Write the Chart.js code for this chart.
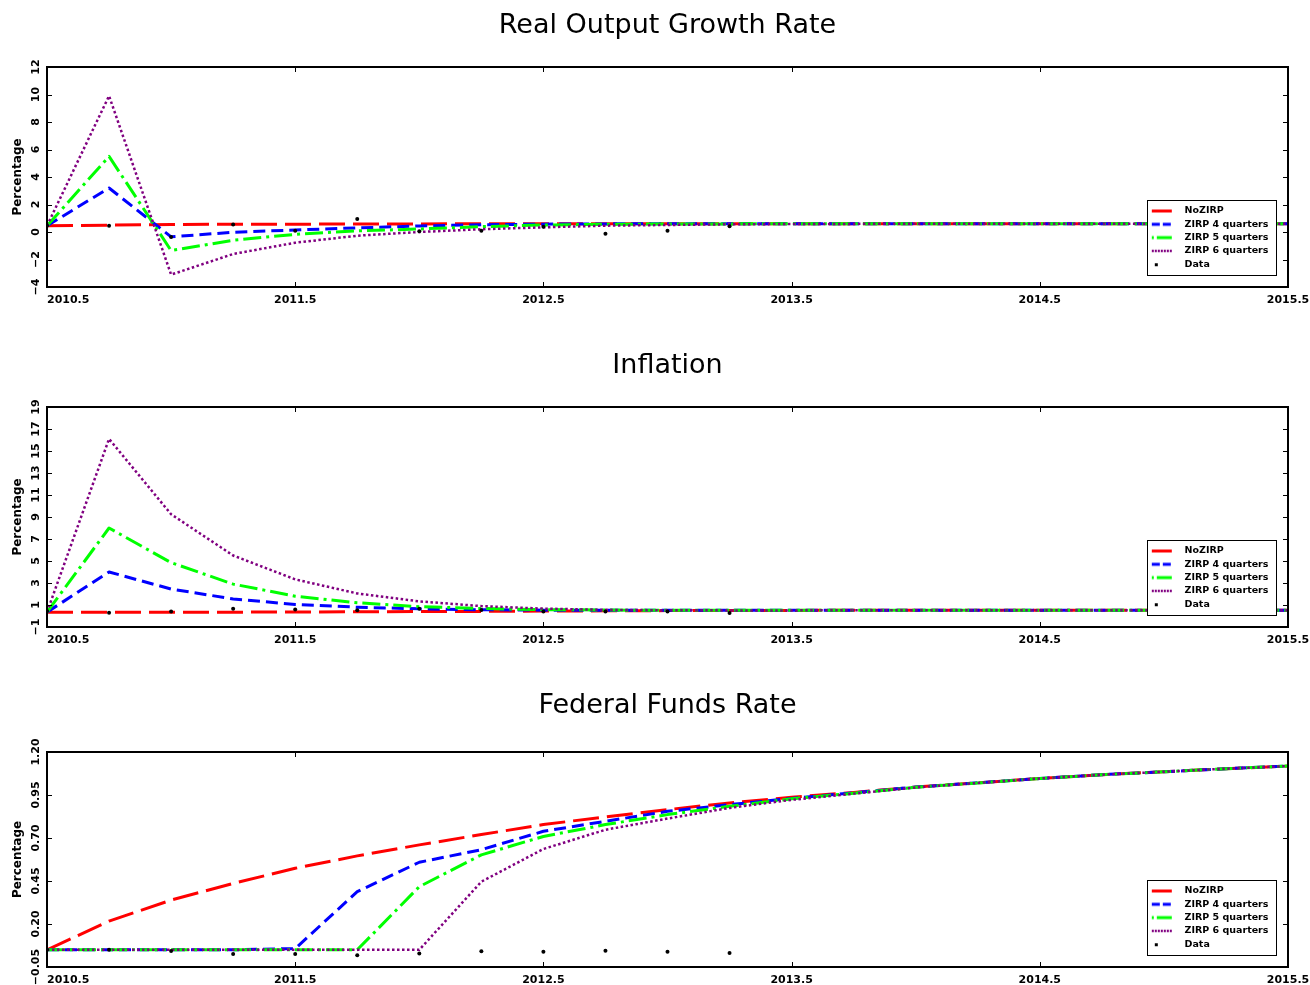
<!DOCTYPE html>
<html>
<head>
<meta charset="utf-8">
<script src="https://cdn.jsdelivr.net/npm/chart.js@4.4.0/dist/chart.umd.min.js"></script>
<style>
  html, body { margin: 0; padding: 0; background: #fff; overflow: hidden; width: 1310px; height: 985px; }
  .panel { position: absolute; left: 0; width: 1310px; height: 330px; }
</style>
</head>
<body>
<div class="panel" style="top:0"><canvas id="output" width="1310" height="330"></canvas></div>
<div class="panel" style="top:340px"><canvas id="inflation" width="1310" height="330"></canvas></div>
<div class="panel" style="top:680px"><canvas id="ffr" width="1310" height="330"></canvas></div>
<script>
// quarters on the x axis
const quarters = [2010.5, 2010.75, 2011, 2011.25, 2011.5, 2011.75, 2012, 2012.25, 2012.5, 2012.75, 2013,
    2013.25, 2013.5, 2013.75, 2014, 2014.25, 2014.5, 2014.75, 2015, 2015.25, 2015.5];
const dataQuarters = [2010.5, 2010.75, 2011, 2011.25, 2011.5, 2011.75, 2012, 2012.25, 2012.5, 2012.75, 2013, 2013.25];
const xTicks = [2010.5, 2011.5, 2012.5, 2013.5, 2014.5, 2015.5];

const seriesNames = ['NoZIRP', 'ZIRP 4 quarters', 'ZIRP 5 quarters', 'ZIRP 6 quarters', 'Data'];

// Real output growth rate
const outputNoZirp = [0.45, 0.5, 0.55, 0.56, 0.57, 0.58, 0.59, 0.6, 0.6, 0.6, 0.6, 0.6, 0.6, 0.6, 0.6, 0.6, 0.6, 0.6, 0.6, 0.6, 0.6];
const outputZirp4 = [0.45, 3.2, -0.35, -0.02, 0.15, 0.3, 0.44, 0.53, 0.57, 0.59, 0.6, 0.6, 0.6, 0.6, 0.6, 0.6, 0.6, 0.6, 0.6, 0.6, 0.6];
const outputZirp5 = [0.45, 5.5, -1.35, -0.6, -0.17, 0.08, 0.22, 0.39, 0.51, 0.56, 0.58, 0.59, 0.6, 0.6, 0.6, 0.6, 0.6, 0.6, 0.6, 0.6, 0.6];
const outputZirp6 = [0.45, 9.9, -3.1, -1.6, -0.78, -0.27, 0.0, 0.2, 0.34, 0.46, 0.51, 0.56, 0.58, 0.59, 0.6, 0.6, 0.6, 0.6, 0.6, 0.6, 0.6];
const outputData = [0.45, 0.45, -0.37, 0.55, 0.1, 0.95, 0.05, 0.1, 0.39, -0.12, 0.1, 0.42];
const outputTicks = [-4, -2, 0, 2, 4, 6, 8, 10, 12];

// Inflation
const inflNoZirp = [0.33, 0.33, 0.34, 0.35, 0.36, 0.38, 0.4, 0.42, 0.45, 0.47, 0.49, 0.5, 0.51, 0.52, 0.52, 0.52, 0.52, 0.52, 0.52, 0.52, 0.52];
const inflZirp4 = [0.35, 4.0, 2.45, 1.55, 1.05, 0.8, 0.65, 0.57, 0.53, 0.52, 0.52, 0.52, 0.52, 0.52, 0.52, 0.52, 0.52, 0.52, 0.52, 0.52, 0.52];
const inflZirp5 = [0.35, 8.0, 4.85, 2.9, 1.8, 1.2, 0.85, 0.68, 0.58, 0.54, 0.52, 0.52, 0.52, 0.52, 0.52, 0.52, 0.52, 0.52, 0.52, 0.52, 0.52];
const inflZirp6 = [0.35, 16.1, 9.25, 5.5, 3.33, 2.05, 1.33, 0.9, 0.67, 0.56, 0.52, 0.51, 0.51, 0.52, 0.52, 0.52, 0.52, 0.52, 0.52, 0.52, 0.52];
const inflData = [0.45, 0.3, 0.42, 0.67, 0.58, 0.52, 0.67, 0.55, 0.42, 0.42, 0.42, 0.27];
const inflTicks = [-1, 1, 3, 5, 7, 9, 11, 13, 15, 17, 19];

// Federal funds rate
const ffrNoZirp = [0.05, 0.217, 0.339, 0.436, 0.524, 0.596, 0.66, 0.72, 0.778, 0.823, 0.865, 0.904, 0.937, 0.965, 0.996, 1.021, 1.046, 1.068, 1.085, 1.103, 1.118];
const ffrZirp4 = [0.05, 0.05, 0.05, 0.05, 0.057, 0.388, 0.559, 0.632, 0.739, 0.797, 0.855, 0.894, 0.93, 0.963, 0.996, 1.021, 1.046, 1.068, 1.085, 1.103, 1.118];
const ffrZirp5 = [0.05, 0.05, 0.05, 0.05, 0.05, 0.05, 0.417, 0.602, 0.709, 0.778, 0.836, 0.884, 0.928, 0.96, 0.995, 1.02, 1.046, 1.068, 1.085, 1.103, 1.118];
const ffrZirp6 = [0.05, 0.05, 0.05, 0.05, 0.05, 0.05, 0.05, 0.446, 0.636, 0.748, 0.813, 0.875, 0.922, 0.958, 0.994, 1.02, 1.046, 1.068, 1.085, 1.103, 1.118];
const ffrData = [0.05, 0.05, 0.043, 0.026, 0.026, 0.018, 0.028, 0.042, 0.038, 0.044, 0.038, 0.032];
const ffrTicks = [-0.05, 0.2, 0.45, 0.7, 0.95, 1.2];

// line looks (matplotlib style)
const lineStyles = [
    { color: '#ff0000', width: 3, dash: [26, 8], legendDash: [] },
    { color: '#0000ff', width: 3, dash: [12, 6], legendDash: [8, 3] },
    { color: '#00ff00', width: 3, dash: [18, 5, 3, 5], legendDash: [2, 3, 16] },
    { color: '#800080', width: 2.5, dash: [2.5, 2.5], legendDash: [2, 1] },
];

Chart.defaults.color = '#000';
Chart.defaults.font.family = 'DejaVu Sans';

// small pictures used as legend samples
function legendIcon(style) {
    const c = document.createElement('canvas');
    c.width = 29;
    c.height = 10;
    const g = c.getContext('2d');
    if (style) {
        g.strokeStyle = style.color;
        g.lineWidth = style.width;
        g.setLineDash(style.legendDash);
        g.beginPath();
        g.moveTo(1, 5);
        g.lineTo(21, 5);
        g.stroke();
    } else {
        g.fillStyle = '#000';
        g.fillRect(4, 4, 3, 3);
    }
    return c;
}
const legendIcons = [legendIcon(lineStyles[0]), legendIcon(lineStyles[1]), legendIcon(lineStyles[2]),
    legendIcon(lineStyles[3]), legendIcon(null)];

// frame and inward tick marks
const framePlugin = {
    id: 'frame',
    beforeDraw(chart) {
        // first x label starts at the axis instead of being centred on it
        const items = chart.scales.x.getLabelItems(chart.chartArea);
        if (items.length) items[0].options.textAlign = 'left';
    },
    afterDatasetsDraw(chart) {
        const ctx = chart.ctx;
        const ca = chart.chartArea;
        const xs = chart.scales.x, ys = chart.scales.y;
        ctx.save();
        ctx.strokeStyle = '#000';
        ctx.lineWidth = 1;
        ctx.beginPath();
        xs.ticks.forEach(t => {
            const px = Math.round(xs.getPixelForValue(t.value)) + 0.5;
            ctx.moveTo(px, ca.bottom); ctx.lineTo(px, ca.bottom - 5);
            ctx.moveTo(px, ca.top); ctx.lineTo(px, ca.top + 5);
        });
        ys.ticks.forEach(t => {
            const py = Math.round(ys.getPixelForValue(t.value)) + 0.5;
            ctx.moveTo(ca.left, py); ctx.lineTo(ca.left + 5, py);
            ctx.moveTo(ca.right, py); ctx.lineTo(ca.right - 5, py);
        });
        ctx.stroke();
        ctx.lineWidth = 2;
        ctx.strokeRect(ca.left, ca.top, ca.right - ca.left, ca.bottom - ca.top);
        ctx.restore();
    }
};

// moves the legend into the lower right corner and gives it a box
const legendBoxPlugin = {
    id: 'legendBox',
    beforeLayout(chart) {
        const lg = chart.legend;
        if (!lg) return;
        lg._layers = () => [{
            z: 10,
            draw(area) {
                const f = chart.$legendFrame;
                const ctx = chart.ctx;
                if (f) {
                    ctx.save();
                    ctx.fillStyle = '#fff';
                    ctx.fillRect(f.left, f.top, f.right - f.left, f.bottom - f.top);
                    ctx.strokeStyle = '#000';
                    ctx.lineWidth = 1;
                    ctx.strokeRect(f.left + 0.5, f.top + 0.5, f.right - f.left - 1, f.bottom - f.top - 1);
                    ctx.restore();
                }
                lg.draw(area);
            }
        }];
    },
    afterLayout(chart) {
        const lg = chart.legend;
        const ca = chart.chartArea;
        const right = ca.right - 11, bottom = ca.bottom - 11;
        const left = right - 130, top = bottom - 76;
        chart.$legendFrame = { left, top, right, bottom };
        lg.left = left;
        lg.right = right;
        lg.top = top + 2.45;
        lg.bottom = bottom;
        lg.width = right - left;
        lg.height = lg.bottom - lg.top;
    }
};

function makePanel(id, title, lines, dots, yTicks, fmt, chartTop, tickPad) {
    const datasets = lines.map((vals, i) => ({
        label: seriesNames[i],
        data: quarters.map((q, j) => ({ x: q, y: vals[j] })),
        borderColor: lineStyles[i].color,
        backgroundColor: lineStyles[i].color,
        borderWidth: lineStyles[i].width,
        borderDash: lineStyles[i].dash,
        borderCapStyle: 'butt',
        borderJoinStyle: 'round',
        pointRadius: 0,
        tension: 0,
        order: 5 - i,
    }));
    datasets.push({
        label: seriesNames[4],
        data: dataQuarters.map((q, j) => ({ x: q, y: dots[j] })),
        showLine: false,
        pointRadius: 2,
        pointBorderWidth: 0,
        pointBackgroundColor: '#000',
        borderColor: '#000',
        backgroundColor: '#000',
        order: 0,
    });

    const tickFont = { family: 'DejaVu Sans', size: 11, weight: 'bold' };

    new Chart(document.getElementById(id), {
        type: 'line',
        data: { datasets },
        options: {
            responsive: false,
            animation: false,
            events: [],
            layout: { padding: { left: 0, right: 22, top: 0, bottom: 0 } },
            scales: {
                x: {
                    type: 'linear',
                    min: xTicks[0],
                    max: xTicks[xTicks.length - 1],
                    afterBuildTicks: s => { s.ticks = xTicks.map(v => ({ value: v })); },
                    afterFit: s => { s.height = 43; s.paddingLeft = 0; s.paddingRight = 0; },
                    grid: { display: false, drawTicks: false },
                    border: { display: false },
                    ticks: {
                        autoSkip: false, maxRotation: 0, minRotation: 0, padding: 7,
                        font: tickFont, color: '#000',
                        callback: v => v.toFixed(1),
                    },
                },
                y: {
                    type: 'linear',
                    min: yTicks[0],
                    max: yTicks[yTicks.length - 1],
                    afterBuildTicks: s => { s.ticks = yTicks.map(v => ({ value: v })); },
                    afterFit: s => { s.width = 47; },
                    grid: { display: false, drawTicks: false },
                    border: { display: false },
                    ticks: {
                        autoSkip: false, minRotation: 90, maxRotation: 90, crossAlign: 'center',
                        padding: tickPad, font: tickFont, color: '#000',
                        callback: v => fmt(v).replace('-', '\u2212'),
                    },
                    title: {
                        display: true,
                        text: 'Percentage',
                        color: '#000',
                        font: { family: 'DejaVu Sans', size: 12, weight: 'bold' },
                        padding: { top: 11, bottom: 0 },
                    },
                },
            },
            plugins: {
                title: {
                    display: true,
                    text: title,
                    color: '#000',
                    fullSize: false,
                    font: { family: 'DejaVu Sans', size: 27, weight: 'normal' },
                    padding: { top: 10, bottom: chartTop - 42.4 },
                },
                legend: {
                    position: 'chartArea',
                    align: 'start',
                    labels: {
                        usePointStyle: true,
                        pointStyleWidth: 29,
                        boxHeight: 10,
                        padding: 3.8,
                        color: '#000',
                        font: { family: 'DejaVu Sans', size: 9.5, weight: 'bold' },
                        generateLabels(chart) {
                            const items = Chart.defaults.plugins.legend.labels.generateLabels(chart);
                            items.forEach(it => { it.pointStyle = legendIcons[it.datasetIndex]; });
                            return items;
                        },
                        sort: (a, b) => a.datasetIndex - b.datasetIndex,
                    },
                },
                tooltip: { enabled: false },
            },
        },
        plugins: [framePlugin, legendBoxPlugin],
    });
}

makePanel('output', 'Real Output Growth Rate',
    [outputNoZirp, outputZirp4, outputZirp5, outputZirp6], outputData,
    outputTicks, v => String(v), 67, 2);
makePanel('inflation', 'Inflation',
    [inflNoZirp, inflZirp4, inflZirp5, inflZirp6], inflData,
    inflTicks, v => String(v), 67, 2);
makePanel('ffr', 'Federal Funds Rate',
    [ffrNoZirp, ffrZirp4, ffrZirp5, ffrZirp6], ffrData,
    ffrTicks, v => v.toFixed(2), 72, -7.7);
</script>
</body>
</html>
